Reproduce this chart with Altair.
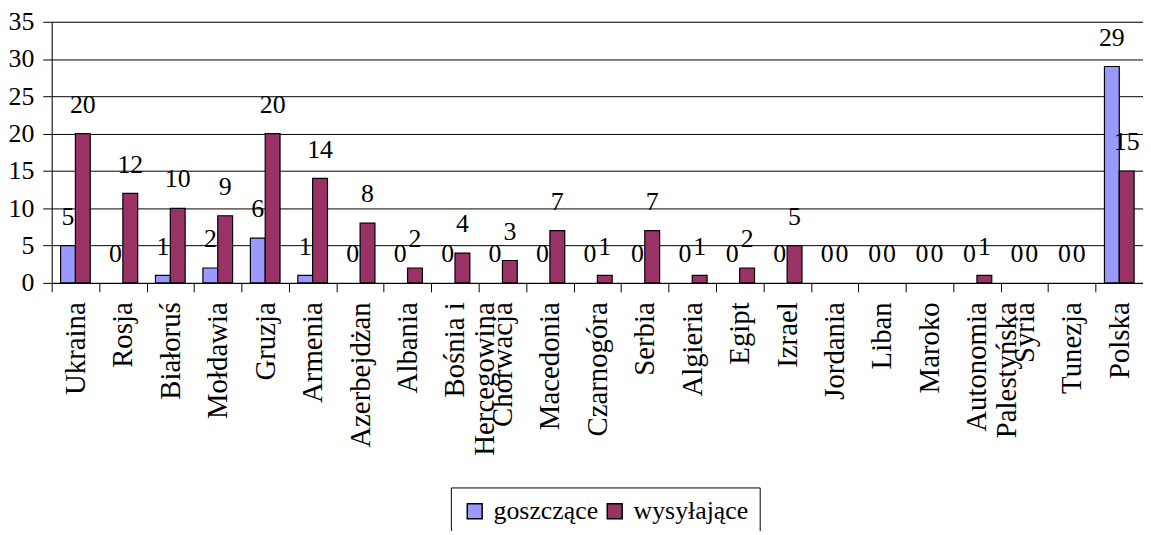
import altair as alt
import pandas as pd

countries = ["Ukraina", "Rosja", "Białoruś", "Mołdawia", "Gruzja", "Armenia",
             "Azerbejdżan", "Albania", "Bośnia i|Hercegowina", "Chorwacja",
             "Macedonia", "Czarnogóra", "Serbia", "Algieria", "Egipt", "Izrael",
             "Jordania", "Liban", "Maroko", "Autonomia|Palestyńska", "Syria",
             "Tunezja", "Polska"]
goszczace = [5, 0, 1, 2, 6, 1, 0, 0, 0, 0, 0, 0, 0, 0, 0, 0, 0, 0, 0, 0, 0, 0, 29]
wysylajace = [20, 12, 10, 9, 20, 14, 8, 2, 4, 3, 7, 1, 7, 1, 2, 5, 0, 0, 0, 1, 0, 0, 15]
series = ["goszczące", "wysyłające"]
colors = ["#9999FF", "#993366"]

rows = []
for c, g, w in zip(countries, goszczace, wysylajace):
    rows.append({"country": c, "series": series[0], "value": g})
    rows.append({"country": c, "series": series[1], "value": w})
df = pd.DataFrame(rows)

FONT = "Liberation Serif"

base = alt.Chart(df).encode(
    x=alt.X("country:N", sort=countries,
            scale=alt.Scale(paddingInner=0, paddingOuter=0),
            axis=alt.Axis(title=None, labelAngle=-90, tickBand="extent",
                          labelExpr="split(datum.label, '|')",
                          labelFont=FONT, labelFontSize=29, labelColor="black",
                          labelAlign="right", labelBaseline="middle",
                          labelLineHeight=30,
                          labelPadding=10, labelLimit=400, labelOverlap=False,
                          tickSize=9, tickColor="black", domainColor="black",
                          grid=False)),
    xOffset=alt.XOffset("series:N", sort=series,
                        scale=alt.Scale(paddingInner=0, paddingOuter=0.6)),
    y=alt.Y("value:Q", scale=alt.Scale(domain=[0, 35], nice=False),
            axis=alt.Axis(title=None, values=list(range(0, 36, 5)),
                          labelFont=FONT, labelFontSize=26, labelColor="black",
                          labelPadding=9, tickSize=9, tickColor="black",
                          domainColor="black", gridColor="black", grid=True)),
)

bars = base.mark_bar(stroke="black", strokeWidth=1.2).encode(
    color=alt.Color("series:N", sort=series,
                    scale=alt.Scale(domain=series, range=colors),
                    legend=alt.Legend(title=None, orient="none", direction="horizontal",
                                      legendX=402, legendY=469,
                                      strokeColor="black", padding=11,
                                      symbolType="square", symbolSize=225,
                                      symbolStrokeColor="black", symbolStrokeWidth=1.5,
                                      symbolOpacity=1,
                                      labelFont=FONT, labelFontSize=26, labelColor="black",
                                      labelOffset=6, columnPadding=3))
).transform_filter("datum.value > 0")

labels = base.mark_text(dy=-29, baseline="middle", align="center",
                        font=FONT, fontSize=26, color="black").encode(
    text="value:Q"
)

chart = alt.layer(bars, labels).properties(
    width=1099, height=263,
    autosize=alt.AutoSizeParams(type="none"),
    padding={"left": 44, "top": 12, "right": 0, "bottom": 248},
).configure_view(fill="#C0C0C0", stroke="#808080", strokeWidth=1.5
).configure(background="white")

chart.save("out.html", embed_options={"renderer": "svg", "actions": False})
